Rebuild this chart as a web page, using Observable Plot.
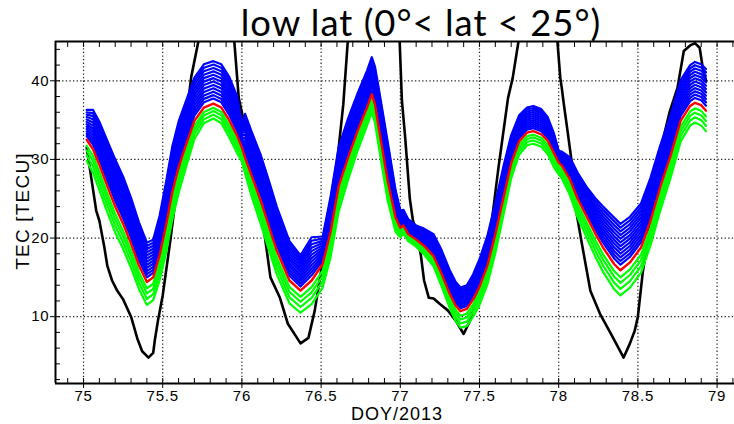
<!DOCTYPE html>
<html><head><meta charset="utf-8">
<script src="https://cdn.jsdelivr.net/npm/d3@7"></script>
<script src="https://cdn.jsdelivr.net/npm/@observablehq/plot@0.6"></script>
<style>
body{margin:0;background:#fff;overflow:hidden}
#chart{position:relative;width:734px;height:424px}
#chart svg text{letter-spacing:0.8px}
</style>
</head><body><div id="chart"></div>
<script>
// Model ensemble: nominal (red) run, and spread of the upper (blue) / lower (green) members
const modelDoy = [
  75.02, 75.06, 75.10, 75.15, 75.20, 75.25, 75.30, 75.35, 75.40, 75.44,
  75.48, 75.52, 75.56, 75.60, 75.65, 75.70, 75.76, 75.82, 75.87, 75.92,
  75.97, 76.00, 76.02, 76.06, 76.12, 76.17, 76.22, 76.30, 76.37, 76.44,
  76.51, 76.56, 76.61, 76.67, 76.73, 76.79, 76.82, 76.84, 76.86, 76.92,
  76.97, 77.00, 77.02, 77.05, 77.10, 77.15, 77.21, 77.26, 77.31, 77.35,
  77.38, 77.42, 77.46, 77.50, 77.55, 77.60, 77.65, 77.70, 77.75, 77.80,
  77.84, 77.89, 77.93, 77.97, 78.00, 78.02, 78.07, 78.12, 78.18, 78.23,
  78.28, 78.35, 78.39, 78.45, 78.52, 78.58, 78.64, 78.71, 78.77, 78.83,
  78.86, 78.90, 78.93
];
const modelRed = [
  32.5, 31.3, 29.3, 26.6, 24.0, 21.8, 19.3, 16.5, 14.4, 15.0,
  17.8, 21.5, 25.8, 29.0, 32.0, 34.9, 36.6, 37.1, 36.6, 35.0,
  33.0, 31.5, 30.2, 28.0, 24.7, 21.5, 18.4, 14.6, 13.3, 14.6,
  16.7, 20.8, 26.5, 30.2, 33.6, 36.6, 38.3, 37.0, 34.5, 27.3,
  22.6, 21.3, 21.6, 20.5, 19.8, 19.0, 17.7, 15.5, 13.0, 11.4,
  10.7, 11.0, 12.2, 13.8, 16.5, 20.5, 25.0, 29.5, 32.3, 33.4,
  33.6, 33.2, 32.4, 30.8, 29.6, 29.2, 27.5, 25.0, 22.6, 20.6,
  18.8, 16.7, 15.9, 16.9, 18.8, 22.2, 26.4, 30.7, 34.9, 36.8,
  37.2, 36.9, 36.2
];
const spreadUp = [
  3.8, 5.0, 5.5, 5.8, 6.0, 6.0, 5.8, 5.5, 5.0, 4.8,
  5.0, 5.5, 5.8, 5.8, 5.6, 5.5, 5.5, 5.4, 5.5, 5.5,
  5.0, 3.0, 5.6, 5.6, 5.8, 5.8, 5.6, 5.0, 4.5, 5.5,
  3.5, 4.5, 5.0, 5.0, 4.8, 4.7, 4.7, 4.8, 5.0, 5.0,
  3.5, 2.2, 2.0, 1.9, 1.8, 2.2, 2.8, 3.0, 3.0, 3.0,
  3.0, 3.0, 3.2, 3.5, 3.8, 4.0, 4.0, 3.6, 3.3, 3.2,
  3.2, 3.2, 3.0, 2.5, 1.5, 1.8, 2.8, 3.3, 3.8, 4.5,
  5.2, 5.9, 5.9, 5.8, 5.6, 5.5, 5.3, 5.2, 5.2, 5.2,
  5.2, 5.2, 5.3
];
const spreadDown = [
  2.7, 3.0, 3.2, 3.3, 3.3, 3.2, 3.1, 3.0, 2.9, 2.9,
  3.2, 3.5, 3.5, 3.3, 2.8, 2.3, 2.0, 1.9, 2.0, 2.2,
  2.2, 1.8, 2.0, 2.6, 3.0, 3.0, 3.0, 2.9, 2.8, 3.0,
  3.0, 3.2, 3.2, 2.8, 2.5, 2.3, 2.3, 2.3, 2.4, 2.5,
  1.8, 1.2, 1.0, 0.9, 0.9, 1.1, 1.3, 1.6, 1.8, 2.0,
  2.1, 2.2, 2.2, 2.3, 2.4, 2.4, 2.2, 1.9, 1.7, 1.6,
  1.6, 1.6, 1.7, 1.8, 1.5, 1.6, 2.0, 2.4, 2.7, 2.9,
  3.1, 3.2, 3.2, 3.2, 3.2, 3.1, 3.0, 2.8, 2.6, 2.5,
  2.5, 2.6, 2.6
];
// relative position of each ensemble member inside its spread
const blueLevels = [0.12, 0.2, 0.28, 0.36, 0.44, 0.52, 0.6, 0.68, 0.76, 0.84, 0.92, 1.0];
const greenLevels = [0.28, 0.5, 0.74, 1.0];

// Observed TEC (black)
const obsDoy = [
  75.02, 75.05, 75.08, 75.10, 75.13, 75.15, 75.18, 75.21, 75.25, 75.30,
  75.34, 75.37, 75.41, 75.44, 75.45, 75.47, 75.50, 75.55, 75.60, 75.65,
  75.68, 75.73, 75.78, 75.85, 75.92, 75.95, 75.98, 76.01, 76.04, 76.08,
  76.14, 76.18, 76.24, 76.29, 76.37, 76.42, 76.46, 76.48, 76.50, 76.55,
  76.60, 76.64, 76.67, 76.73, 76.85, 76.95, 76.995, 77.01, 77.03, 77.06,
  77.08, 77.10, 77.13, 77.15, 77.18, 77.21, 77.25, 77.30, 77.35, 77.40,
  77.44, 77.48, 77.52, 77.57, 77.62, 77.68, 77.71, 77.75, 77.80, 77.90,
  77.99, 78.01, 78.02, 78.03, 78.06, 78.09, 78.11, 78.14, 78.20, 78.26,
  78.33, 78.41, 78.45, 78.48, 78.50, 78.53, 78.57, 78.59, 78.64, 78.70,
  78.75, 78.79, 78.83, 78.86, 78.89, 78.91, 78.93
];
const obsTec = [
  31.5, 27.5, 23.5, 22.2, 19.0, 16.5, 14.6, 13.4, 12.2, 10.0,
  7.2, 5.6, 4.8, 5.4, 7.0, 9.5, 12.7, 20.0, 28.0, 35.5,
  40.5, 45.5, 52, 55, 51, 45.5, 37.8, 35.0, 33.6, 28.5,
  20.9, 15.0, 12.4, 9.1, 6.6, 7.3, 10.8, 13.3, 15.8, 22.0,
  29.4, 37.0, 45.5, 53, 57, 51, 45.5, 37.5, 33, 25.0,
  22.2, 20.9, 17.8, 14.6, 12.4, 12.3, 11.6, 10.8, 9.5, 7.8,
  9.5, 12.5, 16.5, 20.9, 29, 37.8, 40.4, 45.5, 50, 51,
  45.5, 40.4, 39.0, 37.4, 33.0, 28.5, 23.5, 20.0, 13.3, 10.4,
  7.8, 4.8, 6.6, 8.2, 10.0, 15.5, 20.9, 26.0, 31.0, 36.0,
  39.1, 43.8, 44.5, 44.8, 44.2, 41.6, 40.0
];

const xTicks = [75, 75.5, 76, 76.5, 77, 77.5, 78, 78.5, 79];
const xTickLabels = ["75", "75.5", "76", "76.5", "77", "77.5", "78", "78.5", "79"];
const yTicks = [10, 20, 30, 40];
const yTickLabels = ["10", "20", "30", "40"];
const xMinor = d3.range(749, 792).map(d => d / 10);
const yMinor = d3.range(2, 46, 2);
const xDomain = [74.823, 79.11];
const yDomain = [1.5, 45];

const titleText = "low lat (0°< lat < 25°)";
const yLabel = "TEC [TECU]";
const xLabel = "DOY/2013";

// build tables
const blueRows = [], greenRows = [], redRows = [];
blueLevels.forEach((k, i) => modelDoy.forEach((t, j) =>
  blueRows.push({doy: t, tec: modelRed[j] + k * spreadUp[j], member: i})));
greenLevels.forEach((k, i) => modelDoy.forEach((t, j) =>
  greenRows.push({doy: t, tec: modelRed[j] - k * spreadDown[j], member: i})));
modelDoy.forEach((t, j) => redRows.push({doy: t, tec: modelRed[j]}));
const obsRows = obsDoy.map((t, i) => ({doy: t, tec: obsTec[i]}));

const gridStyle = {stroke: "#222", strokeOpacity: 1, strokeWidth: 1.2, strokeDasharray: "1.3,2.3"};

const svg = Plot.plot({
  width: 734, height: 424,
  marginLeft: 55, marginRight: 0, marginTop: 41, marginBottom: 41,
  x: {domain: xDomain},
  y: {domain: yDomain},
  style: {fontFamily: "'Liberation Sans', Arial, sans-serif", fontSize: "15px", background: "white", color: "black"},
  marks: [
    Plot.gridX(xTicks, gridStyle),
    Plot.gridY(yTicks, gridStyle),
    Plot.line(obsRows, {x: "doy", y: "tec", stroke: "black", strokeWidth: 2.6, clip: true}),
    Plot.line(blueRows, {x: "doy", y: "tec", z: "member", stroke: "#0000ff", strokeWidth: 2.2, clip: true}),
    Plot.line(greenRows, {x: "doy", y: "tec", z: "member", stroke: "#00ff00", strokeWidth: 2.2, clip: true}),
    Plot.line(redRows, {x: "doy", y: "tec", stroke: "#ff0000", strokeWidth: 2.4, clip: true}),
    Plot.ruleX([xDomain[0]], {stroke: "black", strokeWidth: 2}),
    Plot.ruleY([yDomain[0], yDomain[1]], {stroke: "black", strokeWidth: 2}),
    Plot.axisX(xTicks, {anchor: "bottom", tickSize: 5, tickPadding: 2, tickFormat: (d, i) => xTickLabels[i], label: null, fontSize: 15}),
    Plot.axisX(xMinor, {anchor: "bottom", tickSize: -5, text: null, label: null}),
    Plot.axisX(xMinor, {anchor: "top", tickSize: -5, text: null, label: null}),
    Plot.axisY(yTicks, {anchor: "left", tickSize: 5, tickPadding: 1, tickFormat: (d, i) => yTickLabels[i], label: null, fontSize: 15}),
    Plot.axisY(yMinor, {anchor: "left", tickSize: -5, text: null, label: null})
  ]
});

const s = d3.select(svg);
s.append("text").attr("x", 421).attr("y", 36).attr("text-anchor", "middle")
  .style("font-family", "Lato, 'Open Sans', sans-serif").style("font-size", "36.4px").style("letter-spacing", "1px")
  .attr("fill", "black").text(titleText);
s.append("text").attr("transform", "translate(29,211) rotate(-90)").attr("text-anchor", "middle")
  .style("font-size", "19px").style("letter-spacing", "1.2px").attr("fill", "black").text(yLabel);
s.append("text").attr("x", 397).attr("y", 420).attr("text-anchor", "middle")
  .style("font-size", "18px").style("letter-spacing", "1px").attr("fill", "black").text(xLabel);

document.getElementById("chart").append(svg);
</script>
</body></html>
